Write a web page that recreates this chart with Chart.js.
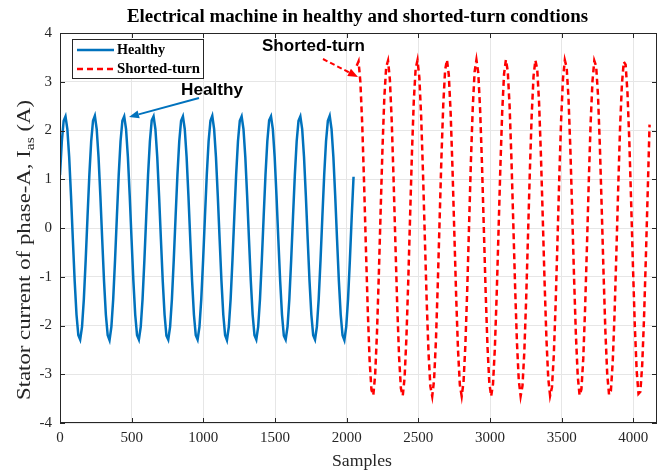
<!DOCTYPE html>
<html>
<head>
<meta charset="utf-8">
<script src="https://cdn.jsdelivr.net/npm/chart.js@4.4.0/dist/chart.umd.min.js"></script>
<style>
  html, body { margin: 0; padding: 0; background: #fff; }
</style>
</head>
<body>
<canvas id="chart" width="659" height="474"></canvas>
<script>
// 数据：从图上读取（每个周期约16个采样点）
const seriesNames = ['Healthy', 'Shorted-turn'];
const xTicks = [0, 500, 1000, 1500, 2000, 2500, 3000, 3500, 4000];
const yTicks = [-4, -3, -2, -1, 0, 1, 2, 3, 4];

const healthyStart = 0;
const healthyStep = 12.8;
const healthyCurrent = [
  1.09, 1.78, 2.20, 2.29, 2.03, 1.46, 0.66, -0.23, -1.09, -1.78, -2.20, -2.29, -2.03, -1.46, -0.66, 0.23,
  1.09, 1.78, 2.20, 2.30, 2.03, 1.46, 0.66, -0.23, -1.09, -1.78, -2.20, -2.30, -2.03, -1.46, -0.66, 0.23,
  1.09, 1.78, 2.20, 2.29, 2.03, 1.46, 0.66, -0.23, -1.09, -1.78, -2.20, -2.29, -2.03, -1.46, -0.66, 0.23,
  1.09, 1.78, 2.21, 2.29, 2.03, 1.46, 0.66, -0.23, -1.09, -1.78, -2.21, -2.29, -2.03, -1.46, -0.66, 0.23,
  1.09, 1.78, 2.20, 2.29, 2.03, 1.46, 0.66, -0.23, -1.09, -1.78, -2.20, -2.29, -2.03, -1.46, -0.66, 0.23,
  1.09, 1.78, 2.20, 2.30, 2.03, 1.46, 0.66, -0.23, -1.09, -1.78, -2.20, -2.30, -2.03, -1.46, -0.66, 0.23,
  1.09, 1.78, 2.20, 2.29, 2.03, 1.46, 0.66, -0.23, -1.09, -1.78, -2.20, -2.29, -2.03, -1.46, -0.66, 0.23,
  1.09, 1.78, 2.21, 2.29, 2.03, 1.46, 0.66, -0.23, -1.09, -1.78, -2.21, -2.29, -2.03, -1.46, -0.66, 0.23,
  1.09, 1.78, 2.20, 2.29, 2.03, 1.46, 0.66, -0.23, -1.09, -1.78, -2.20, -2.29, -2.03, -1.46, -0.66, 0.23,
  1.09, 1.78, 2.20, 2.30, 2.03, 1.46, 0.66, -0.23, -1.09, -1.78, -2.20, -2.30, -2.03, -1.46, -0.66, 0.23,
  1.05
];

const shortedStart = 2070;
const shortedStep = 12.85;
const shortedCurrent = [
  3.33, 3.42, 2.99, 2.12, 0.92, -0.42, -1.69, -2.71, -3.32, -3.43, -3.02, -2.16, -0.97, 0.36, 1.64, 2.68,
  3.30, 3.43, 3.05, 2.20, 1.02, -0.31, -1.60, -2.64, -3.29, -3.44, -3.07, -2.24, -1.07, 0.26, 1.55, 2.61,
  3.27, 3.44, 3.09, 2.28, 1.12, -0.21, -1.50, -2.57, -3.25, -3.45, -3.12, -2.32, -1.17, 0.15, 1.45, 2.54,
  3.24, 3.45, 3.14, 2.36, 1.22, -0.10, -1.41, -2.50, -3.22, -3.45, -3.16, -2.40, -1.27, 0.05, 1.36, 2.46,
  3.20, 3.45, 3.18, 2.43, 1.32, 0.01, -1.31, -2.43, -3.18, -3.45, -3.20, -2.47, -1.37, -0.06, 1.26, 2.39,
  3.16, 3.45, 3.22, 2.51, 1.42, 0.11, -1.21, -2.35, -3.13, -3.45, -3.24, -2.54, -1.46, -0.16, 1.16, 2.31,
  3.11, 3.44, 3.26, 2.58, 1.51, 0.22, -1.11, -2.27, -3.09, -3.44, -3.27, -2.61, -1.56, -0.27, 1.06, 2.23,
  3.07, 3.44, 3.29, 2.65, 1.61, 0.32, -1.01, -2.19, -3.04, -3.43, -3.31, -2.68, -1.65, -0.38, 0.96, 2.15,
  3.01, 3.43, 3.32, 2.72, 1.70, 0.43, -0.91, -2.11, -2.99, -3.42, -3.34, -2.75, -1.75, -0.48, 0.86, 2.07,
  2.96, 3.41, 3.35, 2.78, 1.79, 0.53, -0.81, -2.02, -2.93, -3.40, -3.36, -2.81, -1.84, -0.59, 0.75, 2.12
];

const axisColor = '#262626';
const blue = '#0072BD';
const red = '#FF0000';

function toPoints(start, step, values) {
  return values.map((v, i) => ({ x: start + i * step, y: v }));
}

// 画箭头
function drawArrow(ctx, x1, y1, x2, y2, color, dash) {
  const ang = Math.atan2(y2 - y1, x2 - x1);
  const hl = 10, hw = 4;
  const bx = x2 - hl * Math.cos(ang), by = y2 - hl * Math.sin(ang);
  ctx.save();
  ctx.strokeStyle = color;
  ctx.fillStyle = color;
  ctx.lineWidth = 2;
  ctx.setLineDash(dash || []);
  ctx.beginPath();
  ctx.moveTo(x1, y1);
  ctx.lineTo(bx, by);
  ctx.stroke();
  ctx.setLineDash([]);
  ctx.beginPath();
  ctx.moveTo(x2, y2);
  ctx.lineTo(bx + hw * Math.sin(ang), by - hw * Math.cos(ang));
  ctx.lineTo(bx - hw * Math.sin(ang), by + hw * Math.cos(ang));
  ctx.closePath();
  ctx.fill();
  ctx.restore();
}

// 按目标宽度横向缩放文字（原图文字被拉伸过）
function fillTextFit(ctx, text, cx, cy, width) {
  const w = ctx.measureText(text).width;
  ctx.save();
  ctx.translate(cx, cy);
  ctx.scale(width / w, 1);
  ctx.textAlign = 'center';
  ctx.fillText(text, 0, 0);
  ctx.restore();
}

// 边框、刻度、图例、注释和标题
const decorPlugin = {
  id: 'decor',
  afterDraw(chart) {
    const ctx = chart.ctx;
    const { left, right, top, bottom } = chart.chartArea;
    const xs = chart.scales.x, ys = chart.scales.y;

    ctx.save();
    // box
    ctx.strokeStyle = axisColor;
    ctx.lineWidth = 1;
    ctx.strokeRect(left + 0.5, top + 0.5, right - left - 1, bottom - top - 1);
    // inward ticks
    ctx.beginPath();
    xTicks.forEach(t => {
      const px = Math.round(xs.getPixelForValue(t)) + 0.5;
      ctx.moveTo(px, bottom); ctx.lineTo(px, bottom - 5);
      ctx.moveTo(px, top); ctx.lineTo(px, top + 5);
    });
    yTicks.forEach(t => {
      const py = Math.round(ys.getPixelForValue(t)) + 0.5;
      ctx.moveTo(left, py); ctx.lineTo(left + 5, py);
      ctx.moveTo(right, py); ctx.lineTo(right - 5, py);
    });
    ctx.stroke();

    // legend
    const lx = 72, ly = 39, lw = 131, lh = 39;
    ctx.fillStyle = '#fff';
    ctx.fillRect(lx, ly, lw, lh);
    ctx.strokeStyle = axisColor;
    ctx.strokeRect(lx + 0.5, ly + 0.5, lw, lh);
    ctx.lineWidth = 2.5;
    ctx.strokeStyle = blue;
    ctx.beginPath(); ctx.moveTo(77, 50); ctx.lineTo(114, 50); ctx.stroke();
    ctx.strokeStyle = red;
    ctx.setLineDash([6, 4]);
    ctx.beginPath(); ctx.moveTo(77, 69); ctx.lineTo(114, 69); ctx.stroke();
    ctx.setLineDash([]);
    ctx.fillStyle = '#000';
    ctx.font = 'bold 15px "Liberation Serif"';
    ctx.textBaseline = 'middle';
    fillTextFit(ctx, seriesNames[0], 117 + 24, 50, 48);
    fillTextFit(ctx, seriesNames[1], 117 + 41.5, 69, 83);

    // annotations
    ctx.font = 'bold 16px "Liberation Sans"';
    fillTextFit(ctx, 'Healthy', 212, 91, 62);
    fillTextFit(ctx, 'Shorted-turn', 313.5, 47, 103);
    drawArrow(ctx, 199, 98, 129, 117, blue);
    drawArrow(ctx, 323, 59, 358, 77, red, [5, 3]);

    // title
    ctx.fillStyle = '#000';
    ctx.font = 'bold 18px "Liberation Serif"';
    fillTextFit(ctx, 'Electrical machine in healthy and shorted-turn condtions', 357.5, 17, 461);

    // x label
    ctx.fillStyle = axisColor;
    ctx.font = '17px "Liberation Serif"';
    fillTextFit(ctx, 'Samples', 362, 462, 60);

    // y label with subscript, stretched along its length
    ctx.translate(25, 250);
    ctx.rotate(-Math.PI / 2);
    const main = 'Stator current of phase-A, I';
    const sub = 'as';
    const tail = ' (A)';
    ctx.font = '19px "Liberation Serif"';
    const w1 = ctx.measureText(main).width;
    const w3 = ctx.measureText(tail).width;
    ctx.font = '13px "Liberation Serif"';
    const w2 = ctx.measureText(sub).width;
    const total = w1 + w2 + w3;
    const k = 300 / total;
    ctx.scale(k, 1);
    const x0 = -total / 2;
    ctx.textAlign = 'left';
    ctx.font = '19px "Liberation Serif"';
    ctx.fillText(main, x0, 0);
    ctx.font = '13px "Liberation Serif"';
    ctx.fillText(sub, x0 + w1, 6);
    ctx.font = '19px "Liberation Serif"';
    ctx.fillText(tail, x0 + w1 + w2, 0);
    ctx.restore();
  }
};

const tickFont = { family: 'Liberation Serif', size: 15 };

new Chart(document.getElementById('chart'), {
  type: 'line',
  data: {
    datasets: [
      {
        label: seriesNames[0],
        data: toPoints(healthyStart, healthyStep, healthyCurrent),
        borderColor: blue,
        borderWidth: 2.5,
        pointRadius: 0,
        tension: 0,
        fill: false
      },
      {
        label: seriesNames[1],
        data: toPoints(shortedStart, shortedStep, shortedCurrent),
        borderColor: red,
        borderWidth: 2.5,
        borderDash: [6, 4],
        pointRadius: 0,
        tension: 0,
        fill: false
      }
    ]
  },
  options: {
    responsive: false,
    animation: false,
    layout: { padding: { left: 0, right: 2, top: 33, bottom: 0 } },
    plugins: {
      legend: { display: false },
      tooltip: { enabled: false },
      title: { display: false }
    },
    scales: {
      x: {
        type: 'linear',
        min: 0,
        max: 4165,
        afterFit: s => { s.height = 51; },
        afterBuildTicks: s => { s.ticks = xTicks.map(v => ({ value: v })); },
        grid: { color: '#e6e6e6', drawTicks: false },
        border: { display: false },
        ticks: { font: tickFont, color: axisColor, padding: 6, includeBounds: false, callback: v => String(v) }
      },
      y: {
        min: -4,
        max: 4,
        afterFit: s => { s.width = 60; },
        afterBuildTicks: s => { s.ticks = yTicks.map(v => ({ value: v })); },
        grid: { color: '#e6e6e6', drawTicks: false },
        border: { display: false },
        ticks: { font: tickFont, color: axisColor, padding: 8, callback: v => String(v) }
      }
    }
  },
  plugins: [decorPlugin]
});
</script>
</body>
</html>
